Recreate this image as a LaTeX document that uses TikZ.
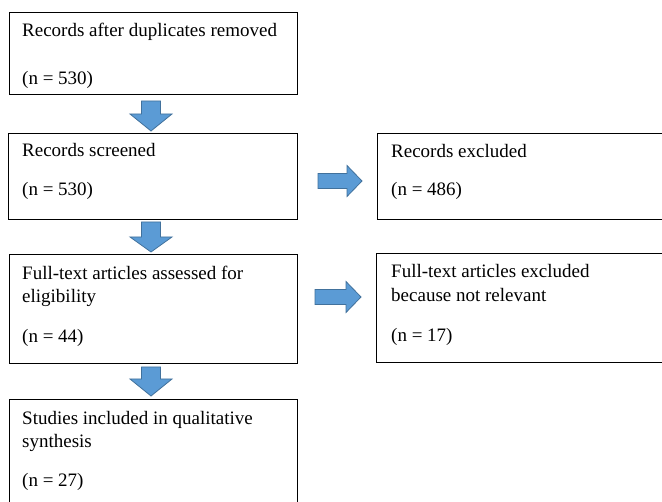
\documentclass[tikz,border=0pt]{standalone}
\usepackage{fontspec}
\setmainfont{Liberation Serif}
\definecolor{arrowfill}{HTML}{5B9BD5}
\definecolor{arrowedge}{HTML}{41719C}
\tikzset{
  box/.style={draw=black, line width=1pt, rectangle, inner sep=0pt},
  txt/.style={anchor=base west, inner sep=0pt, font=\fontsize{19}{23}\selectfont},
  blockarrow/.style={fill=arrowfill, draw=arrowedge, line width=0.8pt, line join=miter}
}
% down block arrow: #1 centre x, #2 top y, #3 head start y, #4 tip y
\newcommand\myDownArrow[4]{%
  \draw[blockarrow] (#1-9.5,#2) -- (#1+9.5,#2) -- (#1+9.5,#3) -- (#1+21,#3)
    -- (#1,#4) -- (#1-21,#3) -- (#1-9.5,#3) -- cycle;}
% right block arrow: #1 centre y, #2 left x, #3 head start x, #4 tip x
\newcommand\myRightArrow[4]{%
  \draw[blockarrow] (#2,#1-7.5) -- (#3,#1-7.5) -- (#3,#1-15.5) -- (#4,#1)
    -- (#3,#1+15.5) -- (#3,#1+7.5) -- (#2,#1+7.5) -- cycle;}
\begin{document}
\begin{tikzpicture}[x=1pt,y=-1pt]
\useasboundingbox (0,0) rectangle (662,502);
\clip (0,0) rectangle (662,502);
\fill[white] (0,0) rectangle (662,502);

% boxes
\node[box, minimum width=288pt, minimum height=81.5pt] (b1) at (153.5,53.75) {};
\node[box, minimum width=289pt, minimum height=86.5pt] (b2) at (152.5,176.75) {};
\node[box, minimum width=288pt, minimum height=109pt] (b3) at (153,309.5) {};
\node[box, minimum width=288pt, minimum height=130pt] (b4) at (153,465) {};
\node[box, minimum width=322.5pt, minimum height=85.5pt] (r1) at (538.75,176.75) {};
\node[box, minimum width=323.5pt, minimum height=109pt] (r2) at (538.25,308.5) {};

% texts
\node[txt] (t1a) at (22,37) {Records after duplicates removed};
\node[txt] (t1b) at (22,85) {(n = 530)};
\node[txt] (t2a) at (22,157) {Records screened};
\node[txt] (t2b) at (22,196) {(n = 530)};
\node[txt] (t3a) at (22,280) {Full-text articles assessed for};
\node[txt] (t3b) at (22,303) {eligibility};
\node[txt] (t3c) at (22,343) {(n = 44)};
\node[txt] (t4a) at (22,425) {Studies included in qualitative};
\node[txt] (t4b) at (22,448) {synthesis};
\node[txt] (t4c) at (22,487) {(n = 27)};
\node[txt] (r1a) at (391,158) {Records excluded};
\node[txt] (r1b) at (391,196) {(n = 486)};
\node[txt] (r2a) at (391,278) {Full-text articles excluded};
\node[txt] (r2b) at (391,302) {because not relevant};
\node[txt] (r2c) at (391,342) {(n = 17)};

% block arrows
\myDownArrow{151}{101}{114}{131}
\myDownArrow{151}{222}{237}{252}
\myDownArrow{151}{367}{379}{396}
\myRightArrow{181}{318}{347}{362}
\myRightArrow{297}{315}{346}{361}
\end{tikzpicture}
\end{document}
